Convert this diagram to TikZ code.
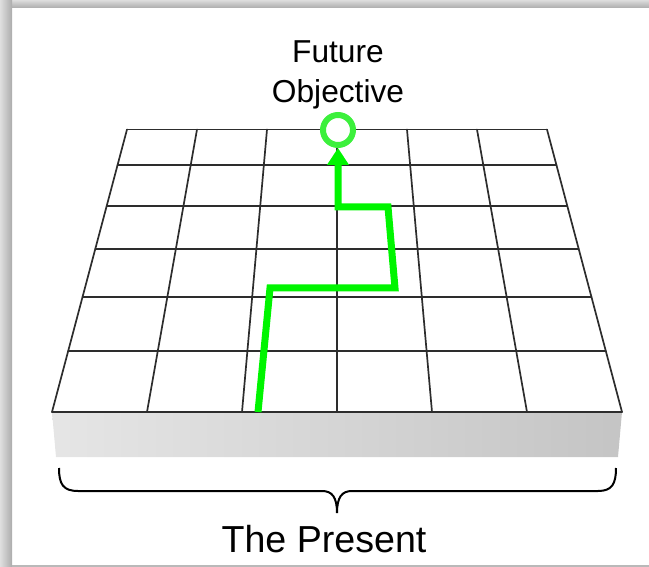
\documentclass[tikz,border=0pt]{standalone}
\usepackage{fontspec}
\setmainfont{Liberation Sans}
\usetikzlibrary{arrows.meta}

\definecolor{pathgreen}{RGB}{0,245,0}
\definecolor{ringgreen}{RGB}{60,240,60}
\definecolor{gridgray}{RGB}{45,45,45}

\begin{document}
\begin{tikzpicture}[x=1pt,y=-1pt,
  gridline/.style={gridgray,line width=1.7pt,line cap=round},
  route/.style={pathgreen,line width=7pt,-{Triangle[length=17pt,width=21pt]}},
  caption/.style={inner sep=0pt,anchor=base}]

\useasboundingbox (0,0) rectangle (649,567);

% Cadre
\shade[top color=gray!27,bottom color=gray!65] (0,0) rectangle (649,8);
\shade[left color=gray!25,right color=gray!65] (0,0) rectangle (12,567);
\draw[gray!55,line width=1.5pt] (12,566) -- (649,566);

% Socle
\shade[left color=gray!20,right color=gray!46]
(52,412) --
(622,412) --
(618,457) --
(56,457) --
cycle;

% Plateau
\foreach \k in {-3,...,3}
  \draw[gridline] ({337+70*\k},129.5) -- ({337+95*\k},412);
\foreach \y in {129.5,165,206,249,297,351,412}{
  \pgfmathsetmacro\hw{210+0.26549*(\y-129.5)}
  \draw[gridline] ({337-\hw},\y) -- ({337+\hw},\y);
}

% Objectif
\node[circle,draw=ringgreen,fill=white,line width=6pt,minimum size=30pt,inner sep=0pt]
  (goal) at (338,130) {};
\coordinate (start) at (258,412);
\draw[route] (start) -- (270,288) -- (395,288) -- (388,207) -- (338,207) -- (goal.south);

\node[caption,font=\fontsize{31.7}{40}\selectfont,align=center]
  (objective) at (338,102.7) {Future\\Objective};

% Accolade
\draw[line width=2pt]
(59,468) .. controls (59,484) and (63,491) .. (78,491) --
(322,491) .. controls (332,491) and (337,497) .. (337,513)
.. controls (337,497) and (342,491) .. (352,491) --
(598,491) .. controls (612,491) and (616,484) .. (616,468);

\node[caption,font=\fontsize{37.6}{45}\selectfont] (present) at (324,552) {The Present};

\end{tikzpicture}
\end{document}
